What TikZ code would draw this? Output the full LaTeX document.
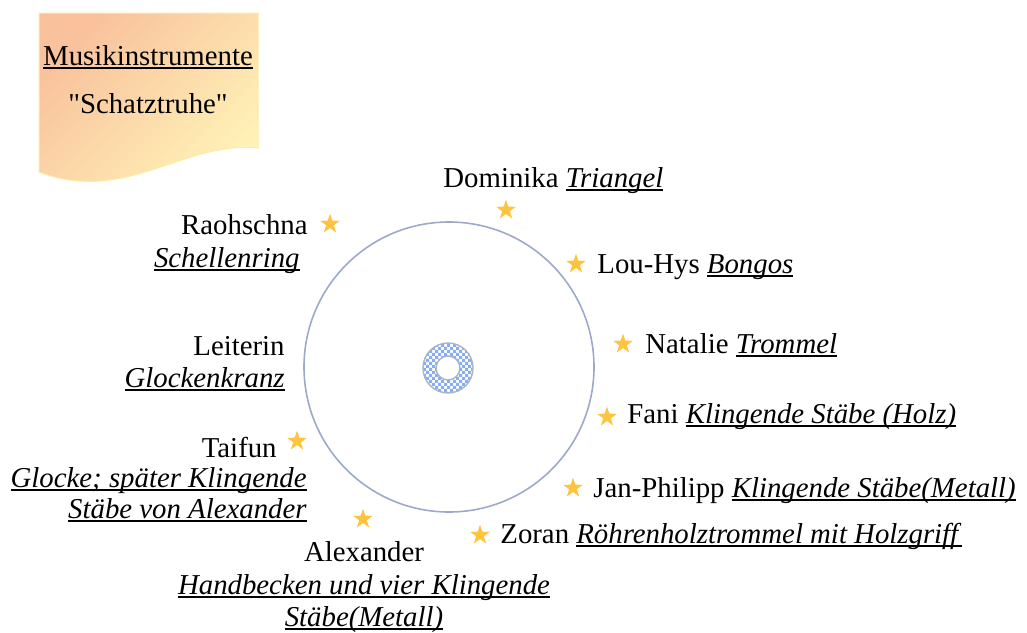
\documentclass[tikz,border=0pt]{standalone}
\usepackage{fontspec}
\setmainfont{Liberation Serif}[Ligatures=TeXOff]
\usetikzlibrary{shapes,patterns}

\newsavebox{\ulnbox}
\newcommand{\uln}[1]{\sbox{\ulnbox}{#1}\rlap{\rule[-1.9pt]{\wd\ulnbox}{0.9pt}}\usebox{\ulnbox}}
\newcommand{\instr}[1]{\uln{\textit{#1}}}

\pgfdeclarepatternformonly{finechecker}{\pgfqpoint{-.05pt}{-.05pt}}{\pgfqpoint{3.05pt}{3.05pt}}{\pgfqpoint{3pt}{3pt}}{
  \pgfpathrectangle{\pgfqpoint{0pt}{0pt}}{\pgfqpoint{1.55pt}{1.55pt}}
  \pgfpathrectangle{\pgfqpoint{1.5pt}{1.5pt}}{\pgfqpoint{1.55pt}{1.55pt}}
  \pgfusepath{fill}}

\definecolor{starcol}{HTML}{FFC43F}
\definecolor{notepink}{HTML}{F9C19C}
\definecolor{noteyellow}{HTML}{FFF4B8}
\definecolor{noteline}{HTML}{FFEBA6}
\definecolor{tablecol}{HTML}{9DA9CB}
\definecolor{ringline}{HTML}{A9B3C8}
\definecolor{ringblue}{HTML}{86AEF8}

\begin{document}
\begin{tikzpicture}[x=0.5pt,y=-0.5pt,font=\fontsize{14.4}{16.5}\selectfont]
            % seating round the table, one star per child
            \tikzstyle{goldstar} = [star, star points=5, star point ratio=2.6, fill=starcol, inner sep=0pt, minimum size=10.5pt];
            \tikzstyle{person} = [inner sep=0pt];

            \useasboundingbox (0,0) rectangle (1027,632);

            % note in the corner
            \shade[draw=noteline, line width=0.5pt, top color=notepink, bottom color=noteyellow, shading angle=45]
            (39,13) -- (258,13) -- (258,148) .. controls (185,140) and (125,205) .. (39,172) -- cycle;
            \node[person, anchor=base] (notetitle) at (148,65) {\uln{Musikinstrumente}};
            \node[person, anchor=base] (notesub) at (148,113) {"Schatztruhe"};

            % table and centre
            \node[circle, draw=tablecol, line width=0.8pt, inner sep=0pt, minimum size=145pt] (table) at (449,367) {};
            \draw[ringline, line width=0.7pt, pattern=finechecker, pattern color=ringblue, even odd rule]
            (448,368) circle (12.5pt) circle (6pt);

            \node[goldstar] (s_dominika) at (506,210) {};
            \node[person, anchor=base west] (dominika) at (443,187) {Dominika \instr{Triangel}};

            \node[goldstar] (s_louhys) at (576,264) {};
            \node[person, anchor=base west] (louhys) at (597,273) {Lou-Hys \instr{Bongos}};

            \node[goldstar] (s_natalie) at (623,344) {};
            \node[person, anchor=base west] (natalie) at (645,353) {Natalie \instr{Trommel}};

            \node[goldstar] (s_fani) at (607,417) {};
            \node[person, anchor=base west] (fani) at (627,423) {Fani \instr{Klingende Stäbe (Holz)}};

            \node[goldstar] (s_janphilipp) at (573,488) {};
            \node[person, anchor=base west] (janphilipp) at (593,497) {Jan-Philipp \instr{Klingende Stäbe(Metall)}};

            \node[goldstar] (s_zoran) at (480,535) {};
            \node[person, anchor=base west] (zoran) at (500,543) {Zoran \instr{Röhrenholztrommel mit Holzgriff}};

            \node[goldstar] (s_alexander) at (363,519) {};
            \node[person, anchor=base] (alexander) at (364,561) {Alexander};
            \node[person, anchor=base] (alexander_i1) at (364,594) {\instr{Handbecken und vier Klingende}};
            \node[person, anchor=base] (alexander_i2) at (364,626) {\instr{Stäbe(Metall)}};

            \node[goldstar] (s_taifun) at (297,441) {};
            \node[person, anchor=base east] (taifun) at (277,457) {Taifun};
            \node[person, anchor=base east] (taifun_i1) at (307,487) {\instr{Glocke; später Klingende}};
            \node[person, anchor=base east] (taifun_i2) at (307,518) {\instr{Stäbe von Alexander}};

            \node[person, anchor=base east] (leiterin) at (285,355) {Leiterin};
            \node[person, anchor=base east] (leiterin_i) at (285,387) {\instr{Glockenkranz}};

            \node[goldstar] (s_raohschna) at (330,224) {};
            \node[person, anchor=base east] (raohschna) at (308,234) {Raohschna};
            \node[person, anchor=base east] (raohschna_i) at (300,267) {\instr{Schellenring}};

        \end{tikzpicture}
\end{document}
